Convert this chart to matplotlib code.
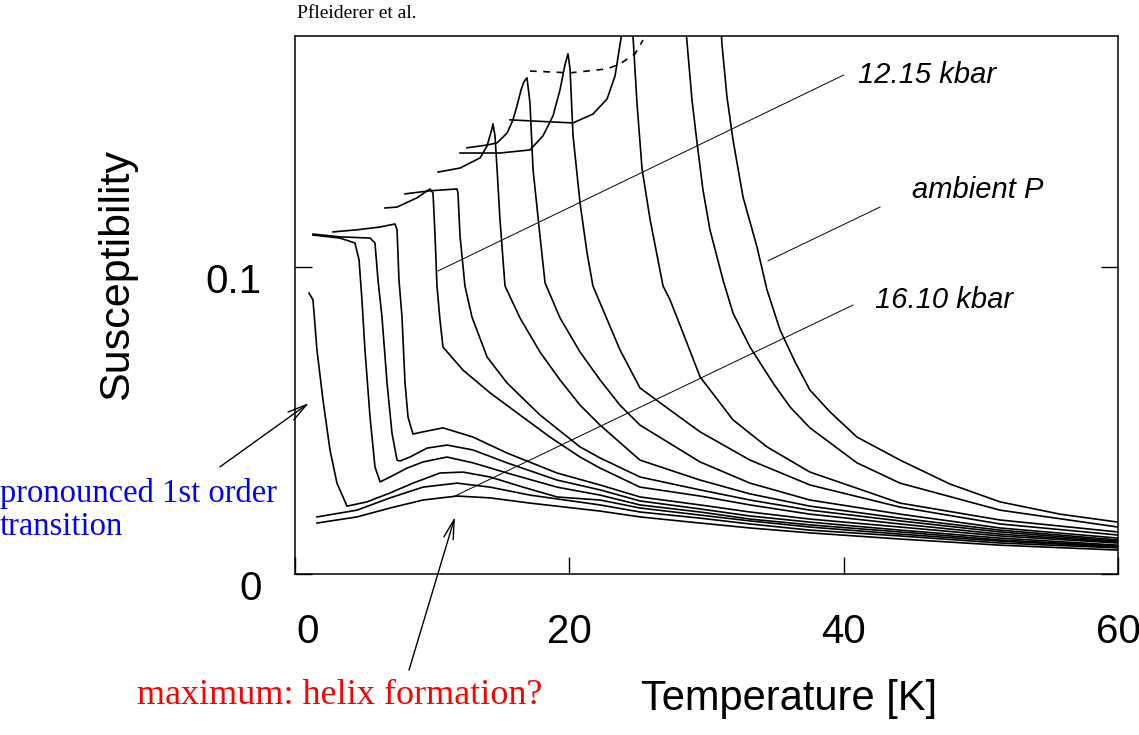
# Susceptibility vs temperature for a set of pressures (MnSi style plot)
import matplotlib.pyplot as plt
from matplotlib.transforms import ScaledTranslation

plt.rcParams['font.family'] = ['Liberation Sans', 'DejaVu Sans']

# curves, highest pressure (16.10 kbar) first, ambient last
t1 = [1.60, 4.52, 6.93, 9.33, 11.81, 14.22, 17.13, 22.24, 25.15, 29.53, 33.17, 37.54, 44.11, 51.40, 60.0]
chi1 = [.0166, .0186, .0215, .0241, .0254, .0248, .0231, .0205, .0186, .0166, .0150, .0134, .0114, .0094, .0078]

t2 = [1.60, 4.52, 6.93, 9.33, 11.81, 14.22, 17.13, 22.24, 25.15, 29.53, 33.17, 37.54, 44.11, 51.40, 60.0]
chi2 = [.0186, .0208, .0248, .0283, .0296, .0283, .0257, .0225, .0202, .0182, .0163, .0143, .0124, .0101, .0085]

t3 = [1.02, 1.31, 1.60, 2.04, 2.55, 3.06, 3.79, 5.25, 6.93, 8.60, 10.57, 12.25, 14.22, 16.62, 19.10,
      22.24, 25.15, 29.53, 33.17, 37.54, 44.11, 51.40, 60.0]
chi3 = [.0915, .0893, .0730, .0567, .0404, .0296, .0221, .0235, .0264, .0296, .0329, .0332, .0316, .0283, .0251,
        .0241, .0215, .0192, .0173, .0153, .0130, .0107, .0088]

t4 = [1.31, 3.28, 4.37, 4.67, 4.88, 5.10, 5.47, 5.83, 6.20, 6.93, 8.17, 9.33, 11.08, 12.98, 15.46, 19.10,
      22.24, 25.15, 29.53, 33.17, 37.54, 44.11, 51.40, 60.0]
chi4 = [.1104, .1094, .1078, .1023, .0893, .0730, .0511, .0349, .0300, .0316, .0345, .0365, .0381, .0362, .0329, .0283,
        .0257, .0225, .0202, .0179, .0160, .0137, .0111, .0091]

t5 = [1.31, 3.28, 5.47, 5.83, 6.05, 6.34, 6.71, 7.07, 7.44, 7.65, 8.38, 9.62, 11.08, 12.98, 15.46, 19.10,
      22.24, 25.15, 29.53, 33.17, 37.54, 44.11, 51.40, 60.0]
chi5 = [.1107, .1098, .1094, .1078, .0958, .0837, .0622, .0459, .0371, .0368, .0381, .0410, .0420, .0404, .0362, .0306,
        .0274, .0238, .0212, .0189, .0169, .0143, .0117, .0094]

t6 = [2.77, 4.52, 6.20, 7.29, 7.44, 7.58, 7.80, 8.02, 8.24, 8.60, 9.33, 10.79, 12.98, 15.46, 19.10,
      22.24, 25.15, 29.53, 33.17, 37.54, 44.11, 51.40, 60.0]
chi6 = [.1114, .1121, .1130, .1140, .1121, .0958, .0837, .0622, .0511, .0456, .0463, .0476, .0446, .0394, .0329,
        .0290, .0251, .0225, .0202, .0179, .0153, .0124, .0101]

# 12.15 kbar
t7 = [6.56, 7.44, 8.89, 9.84, 10.06, 10.21, 10.35, 10.57, 10.79, 12.25, 14.22, 16.40, 18.59, 20.78, 22.24,
      25.15, 29.53, 33.17, 37.54, 44.11, 51.40, 60.0]
chi7 = [.1192, .1195, .1225, .1254, .1241, .1101, .0938, .0827, .0739, .0664, .0590, .0518, .0446, .0381, .0345,
        .0283, .0254, .0225, .0195, .0163, .0130, .0104]

t8 = [8.02, 9.84, 11.81, 11.88, 12.03, 12.39, 12.90, 14.00, 15.46, 17.86, 20.78, 22.24, 25.15, 29.53, 33.17,
      37.54, 44.11, 51.40, 60.0]
chi8 = [.1238, .1248, .1254, .1241, .1101, .0938, .0837, .0707, .0622, .0518, .0414, .0378, .0316, .0274, .0241,
        .0208, .0173, .0137, .0107]

t9 = [10.43, 12.03, 13.49, 14.00, 14.36, 14.43, 14.58, 14.73, 14.94, 15.31, 16.40, 17.86, 19.32, 20.78, 22.24,
      25.15, 29.53, 33.17, 37.54, 44.11, 51.40, 60.0]
chi9 = [.1309, .1322, .1355, .1394, .1450, .1466, .1427, .1319, .1156, .0938, .0834, .0723, .0632, .0550, .0485,
        .0371, .0306, .0261, .0221, .0182, .0143, .0111]

t10 = [12.54, 14.00, 14.73, 15.46, 15.89, 16.18, 16.48, 16.69, 16.91, 17.13, 17.35, 17.86, 18.23, 19.32, 20.78,
       22.24, 23.69, 25.15, 29.53, 33.17, 37.54, 44.11, 51.40, 60.0]
chi10 = [.1388, .1397, .1404, .1436, .1479, .1524, .1577, .1603, .1616, .1534, .1319, .1101, .0948, .0834, .0723,
         .0632, .0550, .0485, .0365, .0296, .0241, .0195, .0150, .0117]

t11 = [12.03, 14.94, 17.13, 18.08, 18.81, 19.32, 19.68, 19.90, 20.05, 20.27, 20.78, 21.29, 21.72, 22.24, 23.69,
       25.15, 27.34, 29.53, 33.17, 37.54, 44.11, 51.40, 60.0]
chi11 = [.1371, .1371, .1381, .1427, .1492, .1577, .1658, .1694, .1645, .1427, .1208, .1046, .0938, .0883, .0730,
         .0606, .0534, .0463, .0371, .0290, .0218, .0163, .0127]

t12 = [15.67, 18.81, 20.27, 21.72, 22.75, 23.33, 23.69, 23.98, 24.28, 24.64, 24.93, 25.30, 25.88, 26.83, 27.34,
       28.29, 29.53, 31.93, 34.41, 37.54, 44.11, 51.40, 60.0]
chi12 = [.1479, .1472, .1469, .1498, .1547, .1622, .1723, .1805, .1821, .1752, .1534, .1319, .1156, .0938, .0893,
         .0785, .0642, .0502, .0414, .0332, .0231, .0176, .0137]

t13 = [28.50, 28.94, 29.31, 29.74, 30.25, 31.20, 31.93, 33.17, 34.85, 36.09, 37.54, 40.97, 44.11, 51.40, 60.0]
chi13 = [.1772, .1544, .1404, .1251, .1121, .0958, .0850, .0739, .0622, .0544, .0476, .0362, .0296, .0208, .0153]

# ambient pressure
t14 = [31.06, 31.13, 31.49, 31.93, 32.66, 33.68, 34.41, 35.36, 36.45, 37.54, 39.00, 40.97, 44.11, 47.75, 51.40,
       55.77, 60.0]
chi14 = [.1772, .1723, .1554, .1414, .1228, .1065, .0925, .0795, .0691, .0599, .0528, .0446, .0371, .0293, .0235,
         .0195, .0169]

# dashed line through the peaks
t_peaks = [17.13, 20.05, 22.75, 23.69, 24.79, 25.37]
chi_peaks = [.1638, .1632, .1645, .1661, .1694, .1739]

# label pointer lines (start on curve, end at label)
lab_1215 = ([10.43, 40.0], [.0987, .1625])
lab_amb = ([34.48, 42.65], [.1020, .1195])
lab_1610 = ([11.52, 40.68], [.0251, .0876])

fig = plt.figure(figsize=(11.39, 7.35), dpi=100)
ax = fig.add_axes([0.259, 0.219, 0.7226, 0.732])

curves = [(t1, chi1), (t2, chi2), (t3, chi3), (t4, chi4), (t5, chi5), (t6, chi6), (t7, chi7),
          (t8, chi8), (t9, chi9), (t10, chi10), (t11, chi11), (t12, chi12), (t13, chi13), (t14, chi14)]
for t, chi in curves:
    ax.plot(t, chi, color='black', lw=1.2, solid_joinstyle='round')

ax.plot(t_peaks, chi_peaks, color='black', lw=1.2, ls=(0, (4, 4)))
for xs, ys in (lab_1215, lab_amb, lab_1610):
    ax.plot(xs, ys, color='black', lw=0.7)

ax.text(41.04, .1625, '12.15 kbar', style='italic', fontsize=21, va='center')
ax.text(44.98, .1251, 'ambient P', style='italic', fontsize=21, va='center')
ax.text(42.28, .0893, '16.10 kbar', style='italic', fontsize=21, va='center')

ax.set_xlim(0, 60)
ax.set_ylim(0, 0.1752)
ax.set_xticks([0, 20, 40, 60])
ax.set_xticklabels(['0', '20', '40', '60'])
ax.set_yticks([0, 0.1])
ax.set_yticklabels(['0', '0.1'])
ax.tick_params(direction='in', length=12, width=1, labelsize=29)
ax.tick_params(axis='x', pad=28)
ax.tick_params(axis='y', pad=24, right=True)
for s in ax.spines.values():
    s.set_linewidth(1.1)

# y labels sit a bit below their ticks in the original
for lab in ax.get_yticklabels():
    lab.set_transform(lab.get_transform() + ScaledTranslation(0, -0.11, fig.dpi_scale_trans))
xl0 = ax.get_xticklabels()[0]
xl0.set_transform(xl0.get_transform() + ScaledTranslation(0.13, 0, fig.dpi_scale_trans))

ax.set_ylabel('Susceptibility', fontsize=31)
ax.yaxis.set_label_coords(-0.192, 0.556)
ax.set_xlabel('Temperature [K]', fontsize=30)
ax.xaxis.set_label_coords(0.60, -0.195)

arrow = dict(arrowstyle='->,head_length=1.4,head_width=0.35', lw=1.0, color='black',
             shrinkA=0, shrinkB=0)
ax.annotate('', xy=(1.02, 0.0557), xytext=(-5.47, 0.0349), arrowprops=arrow, annotation_clip=False)
ax.annotate('', xy=(11.66, 0.0186), xytext=(8.31, -0.0313), arrowprops=arrow, annotation_clip=False)

fig.text(0.2608, 0.9823, 'Pfleiderer et al.', family='Liberation Serif', fontsize=14, va='center')
fig.text(0.0, 0.3061, 'pronounced 1st order\ntransition', family='Liberation Serif', fontsize=23.5,
         color='blue', va='center', linespacing=1.12)
fig.text(0.1203, 0.0531, 'maximum: helix formation?', family='Liberation Serif', fontsize=26,
         color='red', va='center')

fig.savefig('out.png', dpi=100)
